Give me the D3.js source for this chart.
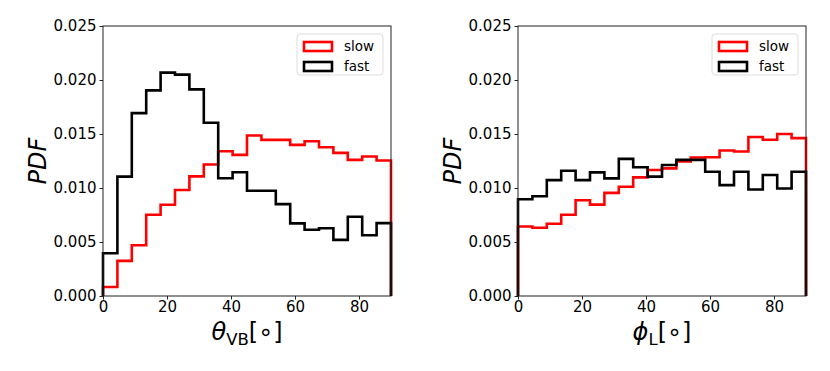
<!DOCTYPE html>
<html>
<head>
<meta charset="utf-8">
<script src="https://cdn.jsdelivr.net/npm/d3@7"></script>
<style>
  body { margin: 0; background: #fff; }
  text { font-family: "DejaVu Sans", sans-serif; }
</style>
</head>
<body>
<script>
// bin edges: 20 bins of 4.5 degrees, 0..90
var binEdges = d3.range(0, 90.01, 4.5);
var xTicks = [0, 20, 40, 60, 80];
var yTicks = [0, 0.005, 0.010, 0.015, 0.020, 0.025];

var thetaSlow = [0.00084, 0.00325, 0.0047, 0.00752, 0.00845, 0.00981, 0.01108, 0.01217, 0.0134, 0.01307,
                 0.01486, 0.01446, 0.01446, 0.01399, 0.01433, 0.01378, 0.01325, 0.0126, 0.01291, 0.01254];
var thetaFast = [0.00396, 0.01105, 0.01693, 0.01904, 0.02068, 0.0205, 0.01913, 0.01604, 0.0109, 0.01146,
                 0.00975, 0.00975, 0.00851, 0.00672, 0.00613, 0.00628, 0.0052, 0.00734, 0.00563, 0.00675];
var phiSlow = [0.00644, 0.00632, 0.00669, 0.00753, 0.00887, 0.00846, 0.00955, 0.01011, 0.01098, 0.01167,
               0.01182, 0.01245, 0.01282, 0.01285, 0.01347, 0.01338, 0.01472, 0.01447, 0.015, 0.01462];
var phiFast = [0.00896, 0.00924, 0.01073, 0.0116, 0.01073, 0.01145, 0.01089, 0.0127, 0.01192, 0.01105,
               0.01213, 0.0126, 0.0126, 0.01151, 0.01027, 0.01151, 0.00986, 0.0112, 0.00996, 0.01151];

var svg = d3.select("body").append("svg")
  .attr("width", 830)
  .attr("height", 371);

function stepPoints(vals) {
  var pts = [[binEdges[0], 0]];
  vals.forEach(function(v, i) {
    pts.push([binEdges[i], v]);
    pts.push([binEdges[i + 1], v]);
  });
  pts.push([binEdges[binEdges.length - 1], 0]);
  return pts;
}

function panel(left, slow, fast, labelMain, labelSub) {
  var top = 26, w = 288, h = 270;
  var g = svg.append("g").attr("transform", "translate(" + left + "," + top + ")");
  var x = d3.scaleLinear().domain([0, 90]).range([0, w]);
  var y = d3.scaleLinear().domain([0, 0.025]).range([h, 0]);

  var line = d3.line().x(function(d) { return x(d[0]); }).y(function(d) { return y(d[1]); });

  g.append("path").attr("d", line(stepPoints(slow)))
    .attr("fill", "none").attr("stroke", "#ff0000").attr("stroke-width", 2.6);
  g.append("path").attr("d", line(stepPoints(fast)))
    .attr("fill", "none").attr("stroke", "#000").attr("stroke-width", 2.6);

  // frame
  g.append("rect").attr("width", w).attr("height", h)
    .attr("fill", "none").attr("stroke", "#222").attr("stroke-width", 1);

  var xa = g.append("g").attr("transform", "translate(0," + h + ")")
    .call(d3.axisBottom(x).tickValues(xTicks).tickSize(3.5).tickPadding(2));
  var ya = g.append("g")
    .call(d3.axisLeft(y).tickValues(yTicks).tickSize(3.5).tickPadding(3).tickFormat(d3.format(".3f")));
  [xa, ya].forEach(function(a) {
    a.select(".domain").remove();
    a.selectAll("text").style("font-size", "15px").attr("fill", "#000");
    a.selectAll("line").attr("stroke", "#222");
  });

  g.append("text").attr("transform", "translate(-57," + (h / 2) + ") rotate(-90)")
    .attr("text-anchor", "middle").style("font-size", "24px").style("font-style", "italic")
    .text("PDF");

  var xl = g.append("text").attr("x", w / 2).attr("y", h + 44)
    .attr("text-anchor", "middle").style("font-size", "24px");
  xl.append("tspan").style("font-style", "italic").text(labelMain);
  xl.append("tspan").attr("dy", 5).style("font-size", "16.5px").text(labelSub);
  xl.append("tspan").attr("dy", -5).text("[∘]");

  // legend
  var lg = g.append("g").attr("transform", "translate(" + (w - 94) + ",8)");
  lg.append("rect").attr("width", 86).attr("height", 41).attr("rx", 3)
    .attr("fill", "#fff").attr("stroke", "#ddd");
  [["slow", "#ff0000"], ["fast", "#000"]].forEach(function(d, i) {
    lg.append("rect").attr("x", 7).attr("y", 8 + i * 20).attr("width", 28).attr("height", 9)
      .attr("fill", "none").attr("stroke", d[1]).attr("stroke-width", 2.6);
    lg.append("text").attr("x", 47).attr("y", 17 + i * 20)
      .style("font-size", "13.5px").text(d[0]);
  });
}

panel(103, thetaSlow, thetaFast, "θ", "VB");
panel(518, phiSlow, phiFast, "ϕ", "L");
</script>
</body>
</html>
